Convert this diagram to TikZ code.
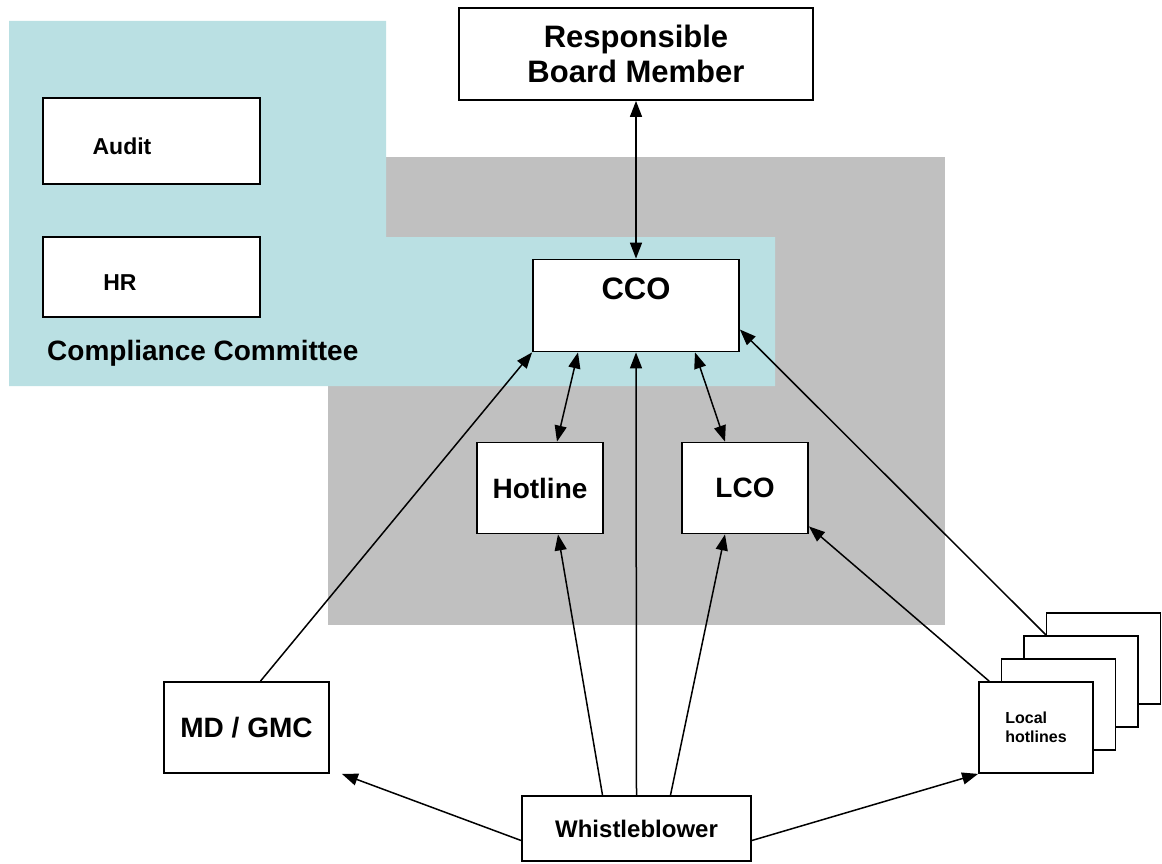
\documentclass[tikz,border=0pt]{standalone}
\usepackage{fontspec}
\setmainfont{Liberation Sans}
\usetikzlibrary{arrows.meta}
\definecolor{cyanbg}{RGB}{186,224,227}
\definecolor{graybg}{RGB}{192,192,192}
\tikzset{
  box/.style={draw=black, line width=1.8pt, fill=white, inner sep=0pt, align=center},
  conn/.style={line width=1.5pt, -{Triangle[length=16pt,width=12pt]}},
  dconn/.style={line width=1.5pt, {Triangle[length=16pt,width=12pt]}-{Triangle[length=16pt,width=12pt]}},
  lbl/.style={inner sep=0pt},
  fA/.style={font=\bfseries\fontsize{31}{35}\selectfont},
  fB/.style={font=\bfseries\fontsize{31}{36}\selectfont},
  fC/.style={font=\bfseries\fontsize{28}{33}\selectfont},
  fD/.style={font=\bfseries\fontsize{23}{27}\selectfont},
  fE/.style={font=\bfseries\fontsize{24}{28}\selectfont},
  fF/.style={font=\bfseries\fontsize{16}{19.5}\selectfont},
  lhbox/.style={box, minimum width=114pt, minimum height=91pt}
}
\begin{document}
\begin{tikzpicture}[x=1pt,y=-1pt]
\useasboundingbox (0,0) rectangle (1162,864);
% backgrounds
\fill[graybg] (328,157) rectangle (945,625);
\fill[cyanbg] (9,21) -- (386,21) -- (386,237) -- (775,237) -- (775,386) -- (9,386) -- cycle;
% nodes
\node[box, fA, minimum width=354pt, minimum height=92pt] (rbm) at (636,54) {Responsible\\Board Member};
\node[box, minimum width=217pt, minimum height=86pt] (audit) at (151.5,141) {};
\node[lbl, fD, anchor=base] (audittxt) at (122,154) {Audit};
\node[box, minimum width=217pt, minimum height=80pt] (hr) at (151.5,277) {};
\node[lbl, fD, anchor=base] (hrtxt) at (120,290) {HR};
\node[lbl, fC, anchor=base west] (cc) at (47,360) {Compliance Committee};
\node[box, minimum width=206pt, minimum height=92pt] (cco) at (636,305.5) {};
\node[lbl, fB, anchor=base] (ccotxt) at (636,299) {CCO};
\node[box, fC, minimum width=126pt, minimum height=91pt] (hot) at (540,488) {Hotline};
\node[box, fC, minimum width=126pt, minimum height=91pt] (lco) at (745,488) {LCO};
\node[box, fC, minimum width=165pt, minimum height=91pt] (md) at (246.5,727.5) {MD / GMC};
\node[box, fE, minimum width=229pt, minimum height=65pt] (wb) at (636.5,828.5) {Whistleblower};
\node[lhbox] (lh4) at (1103.5,658.5) {};
\node[lhbox] (lh3) at (1081,681.5) {};
\node[lhbox] (lh2) at (1058.5,704.5) {};
\node[lhbox, fF, align=left] (lh1) at (1036,727.5) {Local\\hotlines};
\coordinate (mdtip) at ([xshift=12pt]md.south east);
% connectors
\draw[dconn] (rbm.south) -- (cco.north);
\draw[conn] ([xshift=14pt]md.north) -- (cco.south west);
\draw[dconn] ([xshift=-58pt]cco.south) -- ([xshift=17pt]hot.north);
\draw[conn] (wb.north) -- (cco.south);
\draw[dconn] ([xshift=59pt]cco.south) -- ([xshift=-20pt]lco.north);
\draw[conn] ([xshift=23pt]lh3.north west) -- ([yshift=-24pt]cco.east);
\draw[conn] ([xshift=11pt]lh1.north west) -- ([yshift=8pt]lco.south east);
\draw[conn] ([xshift=-34pt]wb.north) -- ([xshift=18pt]hot.south);
\draw[conn] ([xshift=34pt]wb.north) -- ([xshift=-20pt]lco.south);
\draw[conn] ([yshift=-12pt]wb.west) -- (mdtip);
\draw[conn] ([yshift=-12pt]wb.east) -- (lh1.south west);
\end{tikzpicture}
\end{document}
